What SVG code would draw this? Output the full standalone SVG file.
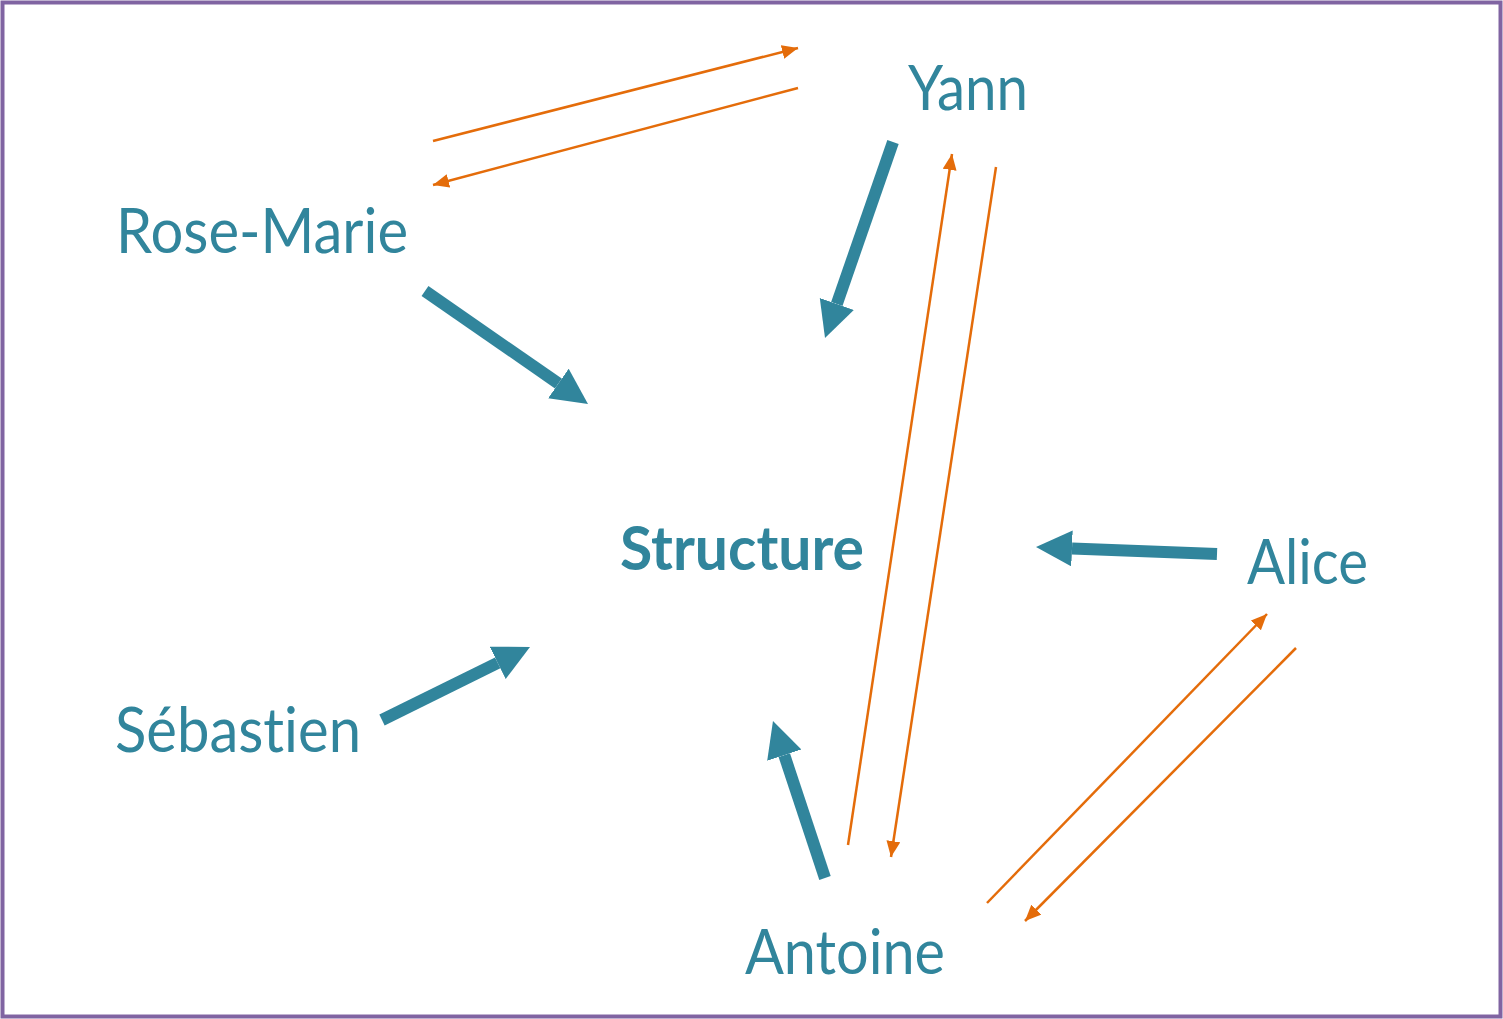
<svg xmlns="http://www.w3.org/2000/svg" width="1503" height="1019" viewBox="0 0 1503 1019">
<style>
.lbl{font-family:Lato,"Open Sans","Liberation Sans",sans-serif;font-size:62px;fill:#31859C;font-variant-ligatures:none;font-feature-settings:"liga" 0,"dlig" 0}
.b{font-weight:bold}
.thick{stroke:#31859C;stroke-width:12;fill:none}
.thin{stroke:#E46C0A;stroke-width:2.5;fill:none}
</style>
<defs>
<marker id="hT" markerUnits="userSpaceOnUse" markerWidth="40" markerHeight="40" refX="0" refY="18" orient="auto"><path d="M0,0 L36,18 L0,36 z" fill="#31859C"/></marker>
<marker id="hO" markerUnits="userSpaceOnUse" markerWidth="20" markerHeight="20" refX="16" refY="7" orient="auto"><path d="M0,0 L16,7 L0,14 z" fill="#E46C0A"/></marker>
</defs>
<rect x="2.5" y="2.5" width="1498" height="1014" fill="#fff" stroke="#8064A2" stroke-width="4"/>
<g id="connectors">
<line class="thick" x1="893" y1="142" x2="836.8" y2="304" marker-end="url(#hT)"/>
<line class="thick" x1="425" y1="291" x2="558.4" y2="383.5" marker-end="url(#hT)"/>
<line class="thick" x1="382" y1="720" x2="497.7" y2="662.9" marker-end="url(#hT)"/>
<line class="thick" x1="825" y1="878" x2="784.3" y2="755.2" marker-end="url(#hT)"/>
<line class="thick" x1="1217" y1="554" x2="1072" y2="548.4" marker-end="url(#hT)"/>
<line class="thin" x1="433" y1="141" x2="798" y2="48" marker-end="url(#hO)"/>
<line class="thin" x1="798" y1="88" x2="433" y2="185" marker-end="url(#hO)"/>
<line class="thin" x1="848" y1="845" x2="952" y2="154" marker-end="url(#hO)"/>
<line class="thin" x1="996" y1="167" x2="891" y2="857" marker-end="url(#hO)"/>
<line class="thin" x1="987" y1="903" x2="1267" y2="614" marker-end="url(#hO)"/>
<line class="thin" x1="1296" y1="648" x2="1025" y2="921" marker-end="url(#hO)"/>
</g>
<g id="yann"><text class="lbl" x="908" y="110" textLength="120" lengthAdjust="spacingAndGlyphs">Yann</text></g>
<g id="rose-marie"><text class="lbl" x="116" y="253" textLength="292" lengthAdjust="spacingAndGlyphs">Rose-Marie</text></g>
<g id="structure"><text class="lbl b" x="620" y="570" textLength="244" lengthAdjust="spacingAndGlyphs">Structure</text></g>
<g id="alice"><text class="lbl" x="1247" y="584" textLength="121" lengthAdjust="spacingAndGlyphs">Alice</text></g>
<g id="sebastien"><text class="lbl" x="115" y="752" textLength="246" lengthAdjust="spacingAndGlyphs">Sébastien</text></g>
<g id="antoine"><text class="lbl" x="745" y="974" textLength="200" lengthAdjust="spacingAndGlyphs">Antoine</text></g>
</svg>
